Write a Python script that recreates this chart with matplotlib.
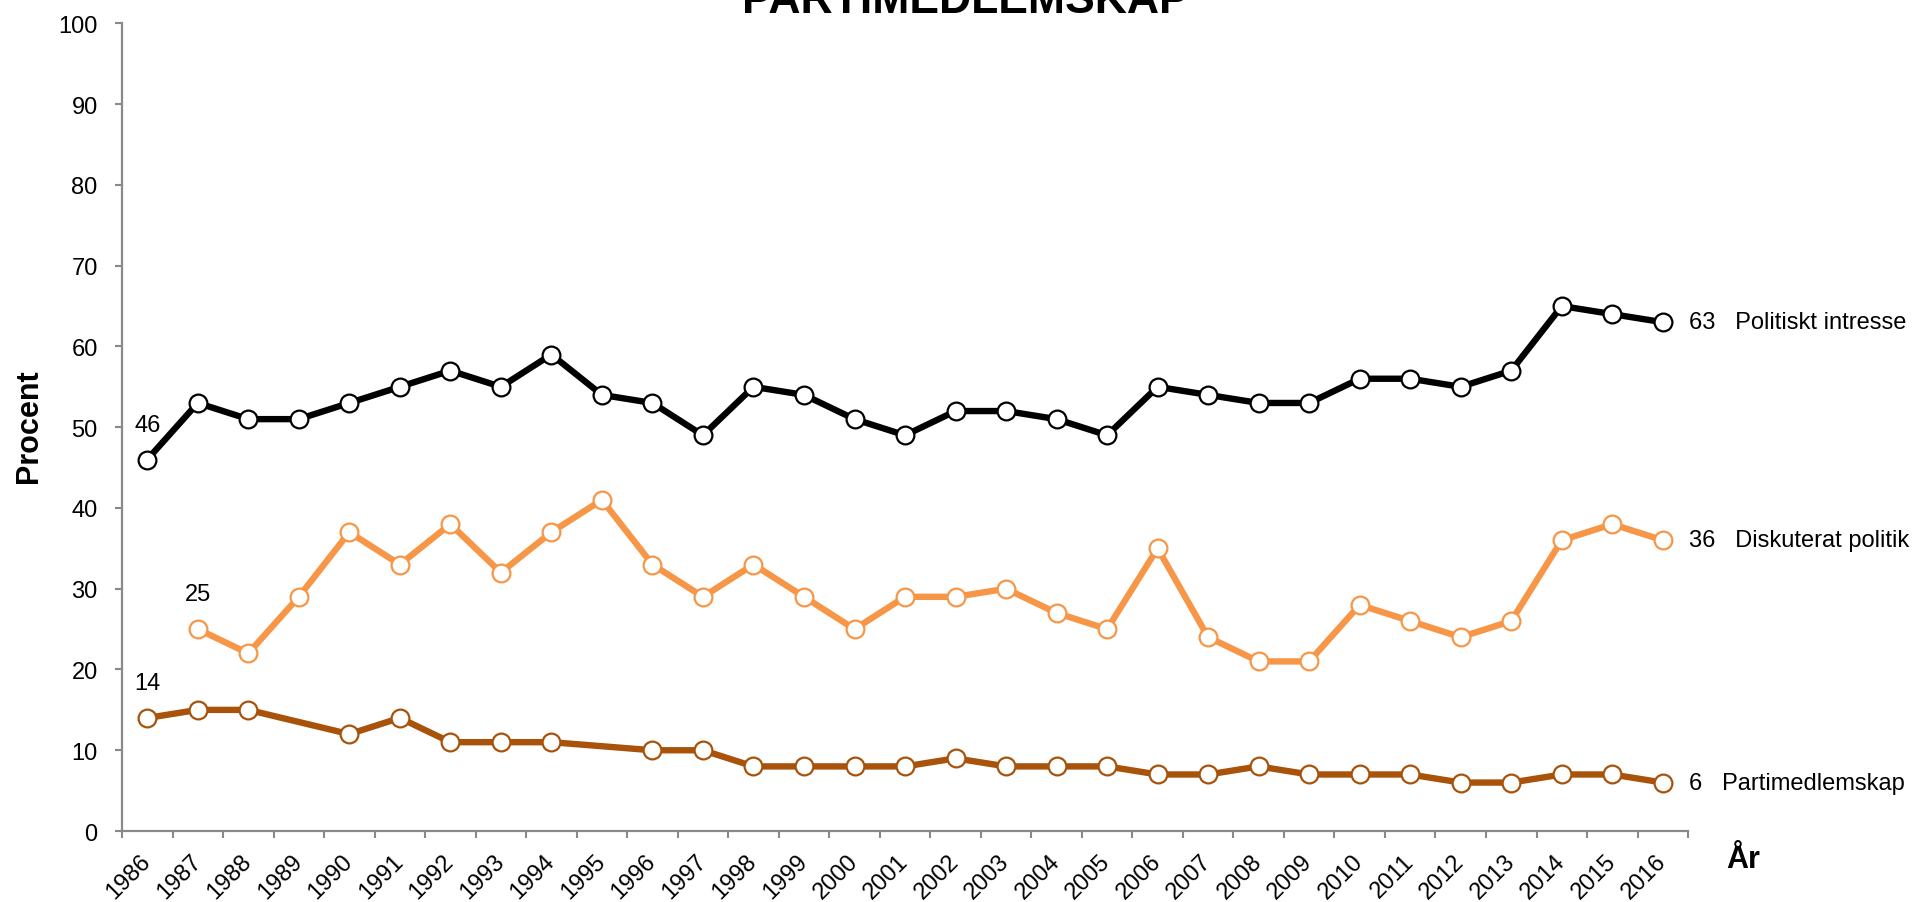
import numpy as np
import matplotlib
matplotlib.use("Agg")
import matplotlib.pyplot as plt

plt.rcParams['font.family'] = ['Liberation Sans', 'DejaVu Sans']

# Data
years = list(range(1986, 2017))
politiskt_intresse = [46, 53, 51, 51, 53, 55, 57, 55, 59, 54, 53, 49, 55, 54, 51, 49,
                      52, 52, 51, 49, 55, 54, 53, 53, 56, 56, 55, 57, 65, 64, 63]
diskuterat_politik = [np.nan, 25, 22, 29, 37, 33, 38, 32, 37, 41, 33, 29, 33, 29, 25, 29,
                      29, 30, 27, 25, 35, 24, 21, 21, 28, 26, 24, 26, 36, 38, 36]
partimedlemskap = [14, 15, 15, np.nan, 12, 14, 11, 11, 11, np.nan, 10, 10, 8, 8, 8, 8,
                   9, 8, 8, 8, 7, 7, 8, 7, 7, 7, 6, 6, 7, 7, 6]

series = [
    ("Politiskt intresse", politiskt_intresse, "#000000"),
    ("Diskuterat politik", diskuterat_politik, "#F79646"),
    ("Partimedlemskap", partimedlemskap, "#A8520A"),
]

fig = plt.figure(figsize=(19.15, 9.03), dpi=100)
ax = fig.add_axes([0.0637, 0.0786, 0.8178, 0.8944])

x = np.arange(len(years))
for name, vals, col in series:
    v = np.array(vals, dtype=float)
    ok = ~np.isnan(v)
    # saknade år hoppas över, linjen dras rakt över luckan
    ax.plot(x[ok], v[ok], color=col, lw=4.6, marker='o', ms=12.8,
            mfc='white', mec=col, mew=1.6, zorder=3, clip_on=False)
    # första värdet ovanför första punkten
    i0 = np.argmax(ok)
    ax.annotate(f"{int(v[i0])}", (x[i0], v[i0]), xytext=(0, 25),
                textcoords='offset points', ha='center', va='center', fontsize=17)
    # sista värdet + serienamn till höger
    ax.annotate(f"{int(v[-1])}   {name}", (x[-1], v[-1]), xytext=(19, 0),
                textcoords='offset points', ha='left', va='center', fontsize=17,
                annotation_clip=False)

ax.set_xlim(-0.5, len(years) - 0.5)
ax.set_ylim(0, 100)
ax.set_yticks(range(0, 101, 10))
ax.set_xticks(x)
ax.set_xticklabels([str(y) for y in years])
ax.set_xticks(np.arange(-0.5, len(years), 1), minor=True)

for s in ['top', 'right']:
    ax.spines[s].set_visible(False)
for s in ['left', 'bottom']:
    ax.spines[s].set_color('#898989')
    ax.spines[s].set_linewidth(1.6)

ax.tick_params(axis='y', length=5, width=1.5, color='#898989', labelsize=17, pad=12.5)
ax.tick_params(axis='x', which='major', length=0, labelsize=17, pad=19)
ax.tick_params(axis='x', which='minor', length=5, width=1.5, color='#898989')
plt.setp(ax.get_xticklabels(), rotation=45, ha='right', va='center',
         rotation_mode='anchor')

fig.text(0.504, 1 - 13 / 903, "PARTIMEDLEMSKAP", fontsize=32, fontweight='bold',
         ha='center', va='baseline')
fig.text(29 / 1915, 1 - 426 / 903, "Procent", fontsize=22, fontweight='bold',
         rotation=90, ha='center', va='center')
fig.text(1743 / 1915, 1 - 860 / 903, "År", fontsize=22, fontweight='bold',
         ha='center', va='center')

fig.savefig("out.png", dpi=100)
